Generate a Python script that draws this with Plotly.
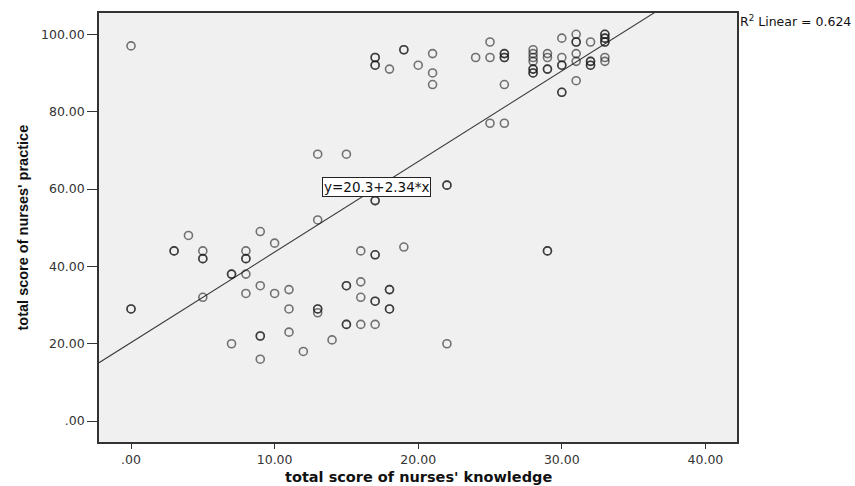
import plotly.graph_objects as go

# Data (duplicates = darker, overlapping circles)
knowledge = [
    0, 0, 0,
    3, 3,
    4,
    5, 5, 5, 5,
    7, 7, 7,
    8, 8, 8, 8, 8,
    9, 9, 9, 9, 9,
    10, 10,
    11, 11, 11,
    12,
    13, 13, 13, 13, 13,
    14,
    15, 15, 15, 15, 15,
    16, 16, 16, 16,
    17, 17, 17, 17, 17, 17, 17, 17, 17, 17, 17,
    18, 18, 18, 18, 18,
    19, 19, 19,
    20,
    21, 21, 21,
    22, 22, 22,
    24,
    25, 25, 25,
    26, 26, 26, 26, 26, 26,
    28, 28, 28, 28, 28, 28, 28, 28,
    29, 29, 29, 29, 29, 29,
    30, 30, 30, 30, 30, 30,
    31, 31, 31, 31, 31, 31,
    32, 32, 32, 32, 32,
    33, 33, 33, 33, 33, 33, 33, 33,
]
practice = [
    97, 29, 29,
    44, 44,
    48,
    44, 42, 42, 32,
    38, 38, 20,
    44, 42, 42, 38, 33,
    49, 35, 22, 22, 16,
    46, 33,
    34, 29, 23,
    18,
    69, 52, 29, 29, 28,
    21,
    69, 35, 35, 25, 25,
    44, 36, 32, 25,
    94, 94, 92, 92, 57, 57, 43, 43, 31, 31, 25,
    91, 34, 34, 29, 29,
    96, 96, 45,
    92,
    95, 90, 87,
    61, 61, 20,
    94,
    98, 94, 77,
    95, 95, 94, 94, 87, 77,
    96, 95, 94, 93, 91, 91, 90, 90,
    95, 94, 91, 91, 44, 44,
    99, 94, 92, 92, 85, 85,
    100, 98, 98, 95, 93, 88,
    98, 93, 93, 92, 92,
    100, 100, 99, 99, 98, 98, 94, 93,
]

intercept = 20.3
slope = 2.34
r2 = 0.624

x_range = [-2.23, 42.2]
y_range = [-5.4, 105.5]
x_ticks = [0, 10, 20, 30, 40]
x_ticktext = [".00", "10.00", "20.00", "30.00", "40.00"]
y_ticks = [0, 20, 40, 60, 80, 100]
y_ticktext = [".00", "20.00", "40.00", "60.00", "80.00", "100.00"]

fig = go.Figure()

# Fit line across the plot area
line_x = [x_range[0], x_range[1]]
line_y = [intercept + slope * v for v in line_x]
fig.add_trace(go.Scatter(
    x=line_x, y=line_y, mode="lines",
    line=dict(color="#3a3a3a", width=1.1),
    hoverinfo="skip", showlegend=False,
))

fig.add_trace(go.Scatter(
    x=knowledge, y=practice, mode="markers",
    marker=dict(symbol="circle-open", size=8,
                color="rgba(20,20,20,0.58)",
                line=dict(width=1.6, color="rgba(20,20,20,0.58)")),
    showlegend=False,
))

fig.add_annotation(
    x=17.1, y=60.4, xref="x", yref="y",
    text="y=20.3+2.34*x", showarrow=False,
    font=dict(family="DejaVu Sans", size=13.5, color="#111"),
    bgcolor="white", bordercolor="#222", borderwidth=1, borderpad=1,
)

fig.add_annotation(
    x=1.0, y=0.981, xref="paper", yref="paper",
    xanchor="left", yanchor="middle", xshift=1,
    text="R<sup>2</sup> Linear = " + f"{r2:.3f}", showarrow=False,
    font=dict(family="DejaVu Sans", size=12.5, color="#111"),
)

# Axis titles as annotations for precise placement
fig.add_annotation(
    x=0.5, y=0, xref="paper", yref="paper", xanchor="center", yanchor="middle",
    yshift=-35, text="<b>total score of nurses' knowledge</b>", showarrow=False,
    font=dict(family="DejaVu Sans", size=14.5, color="#111"),
)
fig.add_annotation(
    x=0, y=0.5, xref="paper", yref="paper", xanchor="center", yanchor="middle",
    xshift=-77, textangle=-90, text="<b>total score of nurses' practice</b>",
    showarrow=False,
    font=dict(family="Liberation Sans", size=14.5, color="#111"),
)

axis_common = dict(
    showgrid=False, zeroline=False, showline=True, linecolor="#333",
    linewidth=1.5, mirror=True, ticks="outside", tickcolor="#333",
    automargin=False,
    tickfont=dict(family="DejaVu Sans", size=12.5, color="#333"),
)

fig.update_xaxes(range=x_range, tickvals=x_ticks, ticktext=x_ticktext,
                 ticklen=5, **axis_common)
fig.update_yaxes(range=y_range, tickvals=y_ticks, ticktext=y_ticktext,
                 ticklen=10, **axis_common)

fig.update_layout(
    width=855, height=486,
    margin=dict(l=99, r=118, t=13, b=44),
    plot_bgcolor="#F0F0F0", paper_bgcolor="white",
    showlegend=False,
)

fig.write_html("out.html", config={"displayModeBar": False},
               post_script="document.body.style.margin='0';document.body.style.overflow='hidden';")
